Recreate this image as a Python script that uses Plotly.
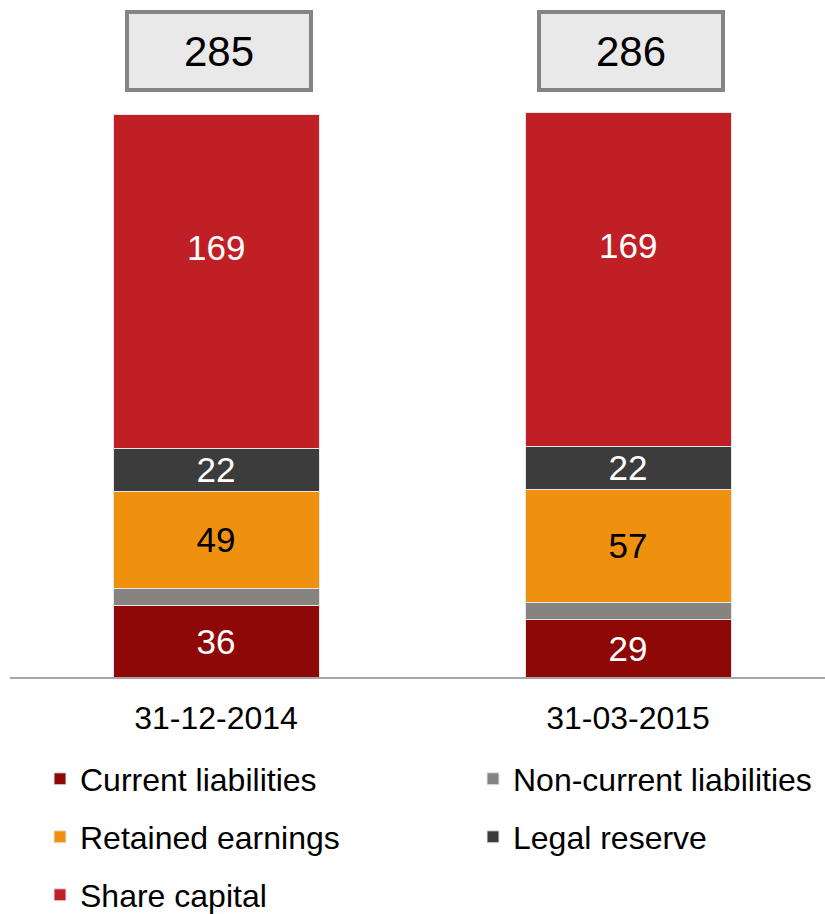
import plotly.graph_objects as go

categories = ["31-12-2014", "31-03-2015"]
series_names = ["Current liabilities", "Non-current liabilities", "Retained earnings",
                "Legal reserve", "Share capital"]
current_liabilities = [36, 29]
non_current_liabilities = [9, 9]
retained_earnings = [49, 57]
legal_reserve = [22, 22]
share_capital = [169, 169]

series_values = [current_liabilities, non_current_liabilities, retained_earnings,
                 legal_reserve, share_capital]
colors = ["#8f0808", "#878381", "#f0900f", "#3c3c3c", "#c01f25"]
text_colors = ["white", "white", "black", "white", "white"]
# label mode: "bar" = centered inside bar, "ann" = annotation placed in upper part, None = no label
label_mode = ["bar", None, "bar", "bar", "ann"]

FONT = "Liberation Sans, Arial, sans-serif"
W, H = 825, 914

fig = go.Figure()
legend_ids = ["legend", "legend2", "legend3", "legend4", "legend5"]
for i, (name, vals) in enumerate(zip(series_names, series_values)):
    inbar = label_mode[i] == "bar"
    fig.add_trace(go.Bar(
        name=name, x=categories, y=vals,
        marker=dict(color=colors[i], line=dict(color="#e6e6e6", width=1)),
        width=0.5,
        text=[str(v) for v in vals] if inbar else None,
        textposition="inside" if inbar else "none",
        insidetextanchor="middle",
        textangle=0,
        constraintext="none",
        textfont=dict(family=FONT, size=35, color=text_colors[i]),
        legend=legend_ids[i],
        hoverinfo="skip",
    ))

# labels placed in the upper part of a segment (as in the reference)
for i, mode in enumerate(label_mode):
    if mode != "ann":
        continue
    for j, cat in enumerate(categories):
        base = sum(series_values[k][j] for k in range(i))
        v = series_values[i][j]
        fig.add_annotation(
            x=cat, y=base + 0.6 * v, xref="x", yref="y", text=str(v), showarrow=False,
            font=dict(family=FONT, size=35, color=text_colors[i]),
        )

totals = [sum(v[j] for v in series_values) for j in range(len(categories))]
for j, cat in enumerate(categories):
    fig.add_annotation(
        x=cat, y=317, xref="x", yref="y", text=str(totals[j]), showarrow=False,
        font=dict(family=FONT, size=42, color="black"), xshift=3,
        bgcolor="#e9e9e9", bordercolor="#848484", borderwidth=4, borderpad=0,
        width=180, height=74, align="center", valign="middle",
    )

# legend positions (container px): item-left x, row center y
leg_pos = [(40, 779), (473, 779), (40, 837), (473, 837), (40, 895)]
legends = {}
for lid, (px, py) in zip(legend_ids, leg_pos):
    legends[lid] = dict(
        xref="container", yref="container", x=px / W, y=1 - py / H,
        xanchor="left", yanchor="middle", orientation="h",
        font=dict(family=FONT, size=32, color="black"),
        bgcolor="rgba(0,0,0,0)", itemclick=False, itemdoubleclick=False,
    )

fig.update_layout(
    width=W, height=H, barmode="stack",
    margin=dict(l=10, r=0, t=0, b=237),
    plot_bgcolor="white", paper_bgcolor="white",
    font=dict(family=FONT, color="black"),
    showlegend=True,
    xaxis=dict(range=[-0.5, 1.478], showline=True, linecolor="#a6a6a6", linewidth=2,
               showgrid=False, zeroline=False, ticks="", ticklabelstandoff=12,
               tickfont=dict(family=FONT, size=32, color="black"), fixedrange=True),
    yaxis=dict(range=[0, 343], visible=False, showgrid=False, zeroline=False, fixedrange=True),
    **legends,
)

fig.write_html("out.html", config={"displayModeBar": False},
               post_script="document.body.style.margin='0';document.body.style.overflow='hidden';")
